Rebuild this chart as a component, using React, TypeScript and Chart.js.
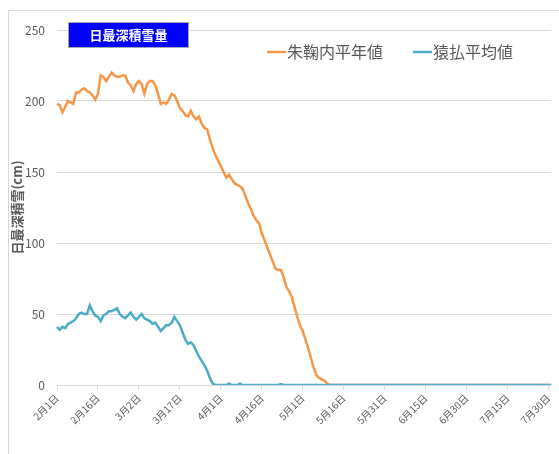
import React, { useEffect, useRef } from "react";
import { Chart, registerables } from "chart.js";

Chart.register(...registerables);

// Categories: daily, Feb 1 – Jul 31 (leap year)
const MONTH_DAYS: number[] = [29, 31, 30, 31, 30, 31];
const START_MONTH = 2;
const categories: string[] = [];
MONTH_DAYS.forEach((n, mi) => {
  for (let d = 1; d <= n; d++) categories.push(`${START_MONTH + mi}月${d}日`);
});

const seriesNames: string[] = ["朱鞠内平年値", "猿払平均値"];

const shumarinaiNormal: number[] = [
  198, 197, 192, 196, 200, 199, 198, 206, 206, 208,
  209, 207, 206, 204, 201, 205, 218, 217, 214, 217,
  220, 218, 217, 217, 218, 218, 213, 211, 207, 212,
  214, 212, 205, 212, 214, 214, 211, 205, 198, 199,
  198, 201, 205, 204, 200, 195, 193, 190, 189, 193,
  189, 187, 189, 184, 181, 180, 173, 167, 162, 158,
  154, 150, 146, 148, 145, 142, 141, 140, 138, 133,
  128, 124, 119, 116, 114, 107, 102, 97, 92, 87,
  82, 81, 81, 76, 69, 66, 62, 55, 48, 42,
  38, 32, 26, 19, 12, 7, 5, 4, 3, 1,
  0, 0, 0, 0, 0, 0, 0, 0, 0, 0,
  0, 0, 0, 0, 0, 0, 0, 0, 0, 0,
  0, 0, 0, 0, 0, 0, 0, 0, 0, 0,
  0, 0, 0, 0, 0, 0, 0, 0, 0, 0,
  0, 0, 0, 0, 0, 0, 0, 0, 0, 0,
  0, 0, 0, 0, 0, 0, 0, 0, 0, 0,
  0, 0, 0, 0, 0, 0, 0, 0, 0, 0,
  0, 0, 0, 0, 0, 0, 0, 0, 0, 0,
  0, 0,
];

const sarufutsuAverage: number[] = [
  41, 39, 41, 40, 43, 44, 45, 47, 50, 51,
  50, 50, 56, 52, 49, 48, 45, 49, 50, 52,
  52, 53, 54, 50, 48, 47, 49, 51, 48, 46,
  48, 50, 47, 46, 45, 43, 44, 41, 38, 40,
  42, 42, 44, 48, 45, 42, 37, 32, 29, 30,
  28, 24, 20, 17, 14, 10, 5, 1, 0, 0,
  0, 0, 0, 1, 0, 0, 0, 1, 0, 0,
  0, 0, 0, 0, 0, 0, 0, 0, 0, 0,
  0, 0, 0.6, 0, 0, 0, 0, 0, 0, 0,
  0, 0, 0, 0, 0, 0, 0, 0, 0, 0,
  0, 0, 0, 0, 0, 0, 0, 0, 0, 0,
  0, 0, 0, 0, 0, 0, 0, 0, 0, 0,
  0, 0, 0, 0, 0, 0, 0, 0, 0, 0,
  0, 0, 0, 0, 0, 0, 0, 0, 0, 0,
  0, 0, 0, 0, 0, 0, 0, 0, 0, 0,
  0, 0, 0, 0, 0, 0, 0, 0, 0, 0,
  0, 0, 0, 0, 0, 0, 0, 0, 0, 0,
  0, 0, 0, 0, 0, 0, 0, 0, 0, 0,
  0, 0,
];

const yTicks: number[] = [0, 50, 100, 150, 200, 250];
const LABEL_EVERY = 15;

const ORANGE = "#F79646";
const BLUE = "#4BACC6";
const GRID = "#D9D9D9";
const TEXT = "#595959";
const FONT = "'Noto Sans CJK JP', 'Noto Sans', sans-serif";

const decorPlugin = {
  id: "decor",
  beforeDraw(chart: any) {
    const ctx = chart.ctx;
    ctx.save();
    ctx.fillStyle = "#ffffff";
    ctx.fillRect(0, 0, chart.width, chart.height);
    ctx.strokeStyle = GRID;
    ctx.lineWidth = 1;
    ctx.strokeRect(8.5, 10.5, 700, 600);
    ctx.restore();
  },
  afterDraw(chart: any) {
    const ctx = chart.ctx;
    ctx.save();
    // title box
    ctx.fillStyle = "#0000FF";
    ctx.fillRect(68, 22, 121, 26);
    ctx.strokeStyle = "#A6A6A6";
    ctx.lineWidth = 1;
    ctx.strokeRect(68.5, 22.5, 120, 25);
    ctx.fillStyle = "#ffffff";
    ctx.font = `bold 13px ${FONT}`;
    ctx.textAlign = "center";
    ctx.textBaseline = "middle";
    ctx.fillText("日最深積雪量", 128.5, 35.5);
    // legend
    const items = [
      { x: 267, color: ORANGE, text: seriesNames[0] },
      { x: 413, color: BLUE, text: seriesNames[1] },
    ];
    ctx.font = `16px ${FONT}`;
    ctx.textAlign = "left";
    items.forEach((it) => {
      ctx.strokeStyle = it.color;
      ctx.lineWidth = 2.5;
      ctx.beginPath();
      ctx.moveTo(it.x, 52);
      ctx.lineTo(it.x + 19, 52);
      ctx.stroke();
      ctx.fillStyle = TEXT;
      ctx.fillText(it.text, it.x + 20, 52);
    });
    ctx.restore();
  },
};

export default function App() {
  const ref = useRef<HTMLCanvasElement | null>(null);
  useEffect(() => {
    if (!ref.current) return;
    const chart = new Chart(ref.current, {
      type: "line",
      data: {
        labels: categories,
        datasets: [
          {
            label: seriesNames[0],
            data: shumarinaiNormal,
            borderColor: ORANGE,
            backgroundColor: ORANGE,
            borderWidth: 2.5,
            pointRadius: 0,
            tension: 0,
            order: 2,
          },
          {
            label: seriesNames[1],
            data: sarufutsuAverage,
            borderColor: BLUE,
            backgroundColor: BLUE,
            borderWidth: 2.5,
            pointRadius: 0,
            tension: 0,
            order: 1,
          },
        ],
      },
      options: {
        animation: false,
        responsive: false,
        layout: { padding: { left: 0, right: 4, top: 30, bottom: 0 } },
        plugins: {
          legend: { display: false },
          tooltip: { enabled: false },
          title: { display: false },
        },
        scales: {
          x: {
            type: "category",
            offset: false,
            afterBuildTicks: (axis: any) => {
              axis.ticks = axis.ticks.filter((_t: any, i: number) => i % LABEL_EVERY === 0);
            },
            afterFit: (scale: any) => {
              scale.height = 69;
            },
            grid: {
              drawOnChartArea: false,
              drawTicks: true,
              tickLength: 5,
              color: GRID,
            },
            border: { display: true, color: GRID, width: 1 },
            ticks: {
              autoSkip: false,
              maxRotation: 45,
              minRotation: 45,
              padding: 2,
              color: TEXT,
              font: { family: FONT, size: 10 },
            },
          },
          y: {
            min: 0,
            max: 250,
            afterBuildTicks: (axis: any) => {
              axis.ticks = yTicks.map((v) => ({ value: v }));
            },
            afterFit: (scale: any) => {
              scale.width = 57;
            },
            grid: { color: GRID, drawTicks: false },
            border: { display: false },
            ticks: {
              padding: 12,
              color: TEXT,
              font: { family: FONT, size: 12 },
            },
            title: {
              display: true,
              text: "日最深積雪(cm)",
              color: TEXT,
              padding: { top: 9, bottom: 0 },
              font: { family: FONT, size: 13, weight: "bold" },
            },
          },
        },
      },
      plugins: [decorPlugin],
    } as any);
    return () => chart.destroy();
  }, []);
  return (
    <div style={{ position: "absolute", left: 0, top: 0, width: 559, height: 454 }}>
      <canvas ref={ref} width={559} height={454} style={{ display: "block" }} />
    </div>
  );
}
